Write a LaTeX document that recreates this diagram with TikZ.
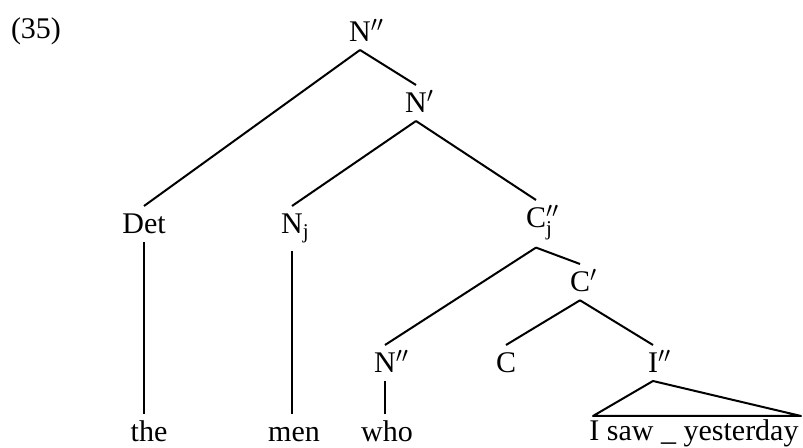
\documentclass[tikz,border=0pt]{standalone}
\usepackage{fontspec}
\setmainfont{Liberation Serif}
\begin{document}
\begin{tikzpicture}[x=0.5pt,y=-0.5pt,line width=1pt,line join=round,
    font=\fontsize{15}{18}\selectfont,
    cat/.style={anchor=base,text height=10pt,inner xsep=1pt,inner ysep=3.5pt},
    word/.style={anchor=base,text height=10.5pt,inner xsep=1pt,inner ysep=3pt}]
    \useasboundingbox (0,0) rectangle (803,448);
    \node[anchor=base west,inner sep=0pt] (ex) at (10,39) {(35)};
    \node[cat] (top) at (360,42) {N\rlap{$''$}};
    \node[cat] (nbar) at (416,113) {N\rlap{$'$}};
    \node[cat] (det) at (144,234) {Det};
    \node[cat] (nj) at (292,234) {N\rlap{$_{\mathrm{j}}$}};
    \node[cat] (cmax) at (536,228) {C\rlap{$''_{\mathrm{j}}$}};
    \node[cat] (cbar) at (580,292) {C\rlap{$'$}};
    \node[cat] (nwho) at (385,373) {N\rlap{$''$}};
    \node[cat] (comp) at (506,373) {C};
    \node[cat] (imax) at (653,373) {I\rlap{$''$}};
    \node[word] (the) at (149,442) {the};
    \node[word] (men) at (294,442) {men};
    \node[word] (who) at (387,442) {who};
    \node[word] (ip) at (694,441) {I saw \_ yesterday};
    \coordinate (ipl) at (593,416);
    \coordinate (ipr) at (801,416);
    \draw (top.south) -- (det.north);
    \draw (top.south) -- (nbar.north);
    \draw (nbar.south) -- (nj.north);
    \draw (nbar.south) -- (cmax.north);
    \draw (cmax.south) -- (nwho.north);
    \draw (cmax.south) -- (cbar.north);
    \draw (cbar.south) -- (comp.north);
    \draw (cbar.south) -- (imax.north);
    \draw (det.south) -- (det.south |- the.north);
    \draw (nj.south) -- (nj.south |- men.north);
    \draw (nwho.south) -- (nwho.south |- who.north);
    \draw (imax.south) -- (ipl) -- (ipr) -- cycle;
\end{tikzpicture}
\end{document}
